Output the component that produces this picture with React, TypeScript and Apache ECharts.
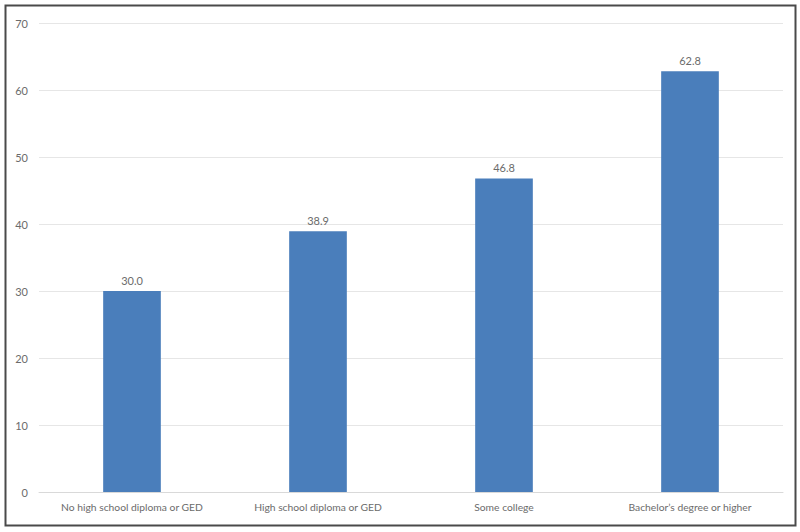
import React, { useEffect, useRef } from "react";
import * as echarts from "echarts";

const categories = [
  "No high school diploma or GED",
  "High school diploma or GED",
  "Some college",
  "Bachelor\u2019s degree or higher",
];
const values = [30.0, 38.9, 46.8, 62.8];
const yTicks = { min: 0, max: 70, interval: 10 };

export default function App() {
  const ref = useRef<HTMLDivElement>(null);
  useEffect(() => {
    document.body.style.margin = "0";
    const chart = echarts.init(ref.current!, null, { renderer: "svg" });
    const font = "Lato, 'Open Sans', sans-serif";
    const labelColor = "#6b6b6b";
    chart.setOption({
      animation: false,
      backgroundColor: "#ffffff",
      textStyle: { fontFamily: font },
      grid: { left: 39, right: 17, top: 23, bottom: 40, containLabel: false },
      graphic: [
        {
          type: "rect",
          shape: { x: 5.5, y: 5.5, width: 790, height: 520 },
          style: { fill: "none", stroke: "#4a4a4a", lineWidth: 2 },
          silent: true,
          z: 100,
        },
      ],
      xAxis: {
        type: "category",
        data: categories,
        axisTick: { show: false },
        axisLine: { show: true, lineStyle: { color: "#d9d9d9", width: 1 } },
        axisLabel: {
          interval: 0,
          color: labelColor,
          fontSize: 10.3,
          margin: 10,
          fontFamily: font,
        },
      },
      yAxis: {
        type: "value",
        min: yTicks.min,
        max: yTicks.max,
        interval: yTicks.interval,
        axisLine: { show: false },
        axisTick: { show: false },
        splitLine: { lineStyle: { color: "#e6e6e6", width: 1 } },
        axisLabel: { color: labelColor, fontSize: 11, margin: 11, fontFamily: font },
      },
      series: [
        {
          type: "bar",
          data: values,
          barWidth: "31%",
          itemStyle: { color: "#4a7ebb" },
          label: {
            show: true,
            position: "top",
            distance: 5,
            color: labelColor,
            fontSize: 11,
            fontFamily: font,
            formatter: (p: any) => Number(p.value).toFixed(1),
          },
        },
      ],
    });
    return () => chart.dispose();
  }, []);
  return <div ref={ref} style={{ width: 800, height: 532 }} />;
}
